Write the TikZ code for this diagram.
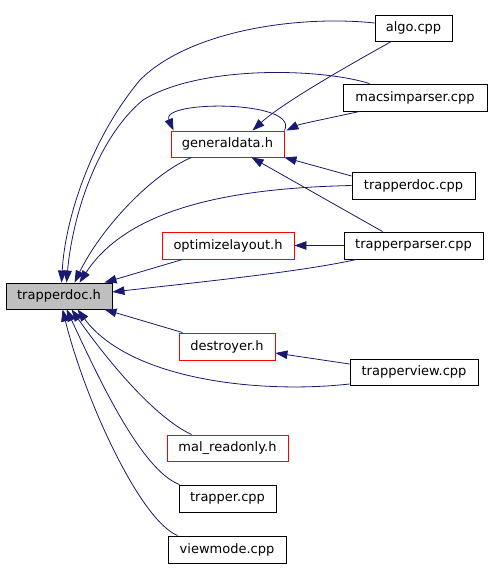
\documentclass[tikz,border=0pt]{standalone}
\usepackage{fontspec}
\setmainfont{DejaVu Sans}
\usetikzlibrary{arrows.meta}
\definecolor{edgeblue}{HTML}{191970}
\definecolor{nodegray}{HTML}{BFBFBF}
\tikzset{
  filebox/.style={draw=black, line width=0.9pt, inner sep=0pt, font=\fontsize{13}{15}\selectfont},
  redbox/.style={filebox, draw=red},
  curbox/.style={filebox, fill=nodegray},
  dep/.style={draw=edgeblue, line width=0.8pt, -{Triangle[length=12pt,width=8.5pt]}, fill=none},
}
\begin{document}
\begin{tikzpicture}[x=1pt,y=-1pt]
\useasboundingbox (0,0) rectangle (491,568);
% nodes
\node[curbox, minimum width=106pt, minimum height=26pt] (tdh) at (59,296) {trapperdoc.h};
\node[redbox, minimum width=113pt, minimum height=26pt] (gd) at (227.5,144) {generaldata.h};
\node[filebox, minimum width=77pt, minimum height=26pt] (algo) at (413.5,28) {algo.cpp};
\node[filebox, minimum width=144pt, minimum height=27pt] (mp) at (415,97.5) {macsimparser.cpp};
\node[filebox, minimum width=123pt, minimum height=27pt] (tdc) at (413.5,185.5) {trapperdoc.cpp};
\node[redbox, minimum width=132pt, minimum height=27pt] (opt) at (228,245.5) {optimizelayout.h};
\node[filebox, minimum width=139pt, minimum height=27pt] (tp) at (413.5,245.5) {trapperparser.cpp};
\node[redbox, minimum width=96pt, minimum height=27pt] (des) at (227,346.5) {destroyer.h};
\node[filebox, minimum width=128pt, minimum height=26pt] (tv) at (414,372) {trapperview.cpp};
\node[redbox, minimum width=121pt, minimum height=26pt] (mal) at (227.5,448) {mal\_readonly.h};
\node[filebox, minimum width=97pt, minimum height=27pt] (tr) at (227.5,498.5) {trapper.cpp};
\node[filebox, minimum width=118pt, minimum height=27pt] (vm) at (227,549.5) {viewmode.cpp};
% edges to trapperdoc.h (top)
\draw[dep] ([yshift=5pt]algo.west) .. controls (300,15) and (190,30) .. (140,80)
  .. controls (90,140) and (65,220) .. ([xshift=56pt]tdh.north west);
\draw[dep] ([xshift=27pt]mp.north west) .. controls (320,68) and (200,65) .. (143,100)
  .. controls (95,140) and (72,220) .. ([xshift=61pt]tdh.north west);
\draw[dep] ([xshift=21pt]gd.south west) .. controls (150,175) and (100,230) .. ([xshift=69pt]tdh.north west);
\draw[dep] (tdc.west) .. controls (240,188) and (130,205) .. ([xshift=74pt]tdh.north west);
\draw[dep] ([xshift=21pt]opt.south west) -- ([xshift=99pt]tdh.north west);
\draw[dep] ([xshift=13pt]tp.south west) .. controls (300,272) and (200,282) .. ([yshift=4pt]tdh.east);
% edges to trapperdoc.h (bottom)
\draw[dep] ([xshift=4pt]des.north west) -- ([xshift=99pt]tdh.south west);
\draw[dep] ([yshift=-12pt]tv.west) .. controls (260,394) and (130,380) .. ([xshift=72pt]tdh.south west);
\draw[dep] ([xshift=25pt]mal.north west) .. controls (150,415) and (100,350) .. ([xshift=66pt]tdh.south west);
\draw[dep] ([xshift=1pt]tr.north west) .. controls (140,470) and (95,370) .. ([xshift=61pt]tdh.south west);
\draw[dep] ([xshift=10pt]vm.north west) .. controls (140,520) and (85,400) .. ([xshift=57pt]tdh.south west);
% edges to generaldata.h
\draw[dep] ([xshift=17pt]algo.south west) .. controls (340,70) and (280,105) .. ([xshift=82pt]gd.north west);
\draw[dep] ([xshift=17pt]mp.south west) .. controls (330,118) and (300,124) .. ([xshift=2pt]gd.north east);
\draw[dep] (gd.north east) .. controls (300,100) and (160,100) .. ([xshift=3pt]gd.north west);
\draw[dep] ([yshift=9.5pt]tdc.west) -- (gd.south east);
\draw[dep] ([xshift=39pt]tp.north west) -- ([xshift=81pt]gd.south west);
% other edges
\draw[dep] (tp.west) -- (opt.east);
\draw[dep] ([yshift=8pt]tv.west) -- ([yshift=-6.5pt]des.east);
\end{tikzpicture}
\end{document}
